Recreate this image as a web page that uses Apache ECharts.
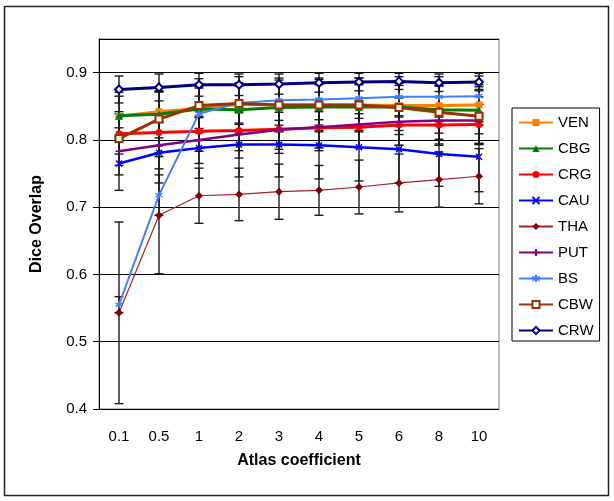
<!DOCTYPE html>
<html>
<head>
<meta charset="utf-8">
<script src="https://cdn.jsdelivr.net/npm/echarts@6/dist/echarts.min.js"></script>
<style>
  html, body { margin: 0; padding: 0; background: #fff; }
  #chart { width: 614px; height: 501px; }
</style>
</head>
<body>
<div id="chart"></div>
<script>
// x categories (atlas coefficient)
const categories = ['0.1', '0.5', '1', '2', '3', '4', '5', '6', '8', '10']

// mean Dice overlap per structure
const ven = [0.835, 0.842, 0.847, 0.853, 0.852, 0.852, 0.852, 0.851, 0.851, 0.852]
const cbg = [0.836, 0.838, 0.846, 0.845, 0.848, 0.849, 0.849, 0.849, 0.845, 0.844]
const crg = [0.809, 0.811, 0.813, 0.814, 0.816, 0.818, 0.819, 0.822, 0.822, 0.823]
const cau = [0.765, 0.781, 0.788, 0.793, 0.793, 0.792, 0.789, 0.786, 0.779, 0.775]
const tha = [0.543, 0.688, 0.717, 0.719, 0.723, 0.725, 0.730, 0.736, 0.741, 0.746]
const put = [0.783, 0.792, 0.800, 0.808, 0.815, 0.819, 0.823, 0.827, 0.829, 0.829]
const bs = [0.555, 0.718, 0.839, 0.855, 0.859, 0.860, 0.862, 0.864, 0.864, 0.865]
const cbw = [0.802, 0.831, 0.851, 0.854, 0.852, 0.852, 0.852, 0.848, 0.841, 0.835]
const crw = [0.875, 0.878, 0.882, 0.882, 0.883, 0.885, 0.886, 0.887, 0.885, 0.886]

// +/- error (std) per structure
const venErr = [0.030, 0.030, 0.030, 0.030, 0.030, 0.030, 0.030, 0.030, 0.030, 0.030]
const cbgErr = [0.035, 0.035, 0.035, 0.035, 0.035, 0.035, 0.035, 0.035, 0.035, 0.035]
const crgErr = [0.030, 0.030, 0.030, 0.030, 0.030, 0.030, 0.030, 0.030, 0.030, 0.030]
const cauErr = [0.040, 0.045, 0.045, 0.048, 0.048, 0.050, 0.050, 0.050, 0.048, 0.052]
const thaErr = [0.135, 0.087, 0.041, 0.039, 0.041, 0.037, 0.040, 0.043, 0.041, 0.041]
const putErr = [0.035, 0.035, 0.035, 0.035, 0.035, 0.035, 0.035, 0.035, 0.035, 0.035]
const bsErr = [0.012, 0.030, 0.040, 0.030, 0.030, 0.030, 0.030, 0.030, 0.030, 0.030]
const cbwErr = [0.040, 0.040, 0.040, 0.040, 0.040, 0.040, 0.040, 0.040, 0.040, 0.040]
const crwErr = [0.020, 0.020, 0.017, 0.016, 0.015, 0.014, 0.013, 0.012, 0.013, 0.013]

const FONT = '"Liberation Sans", Arial, sans-serif'
const X_SYM = 'path://M0,0L10,10M10,0L0,10'
const PLUS_SYM = 'path://M5,0L5,10M0,5L10,5'
const STAR_SYM = 'path://M5,0L5,10M0,2.5L10,7.5M0,7.5L10,2.5'

const structures = [
  { name: 'VEN', data: ven, err: venErr, color: '#ff8000', width: 3, symbol: 'rect', size: 7 },
  { name: 'CBG', data: cbg, err: cbgErr, color: '#008000', width: 3, symbol: 'triangle', size: 8 },
  { name: 'CRG', data: crg, err: crgErr, color: '#ff0000', width: 3, symbol: 'circle', size: 7 },
  { name: 'CAU', data: cau, err: cauErr, color: '#0000ff', width: 2.5, symbol: X_SYM, size: 6, stroke: true },
  { name: 'THA', data: tha, err: thaErr, color: '#800000', lineColor: '#a8202a', width: 1.2, symbol: 'diamond', size: 8 },
  { name: 'PUT', data: put, err: putErr, color: '#800080', width: 2.5, symbol: PLUS_SYM, size: 7, stroke: true },
  { name: 'BS', data: bs, err: bsErr, color: '#4080ff', width: 2, symbol: STAR_SYM, size: 7, stroke: true },
  { name: 'CBW', data: cbw, err: cbwErr, color: '#993300', width: 3, symbol: 'emptyRect', size: 7 },
  { name: 'CRW', data: crw, err: crwErr, color: '#000080', width: 3, symbol: 'emptyDiamond', size: 8 }
]

// error bar rows: [category index, low, high]
const errRows = []
structures.forEach(s => {
  s.data.forEach((v, i) => errRows.push([i, v - s.err[i], v + s.err[i]]))
})

function renderErr(params, api) {
  const i = api.value(0)
  const lo = api.coord([i, api.value(1)])
  const hi = api.coord([i, api.value(2)])
  const w = 4.5
  const st = { stroke: '#1a1a1a', lineWidth: 1.4 }
  return {
    type: 'group',
    children: [
      { type: 'line', shape: { x1: lo[0], y1: lo[1], x2: hi[0], y2: hi[1] }, style: st },
      { type: 'line', shape: { x1: lo[0] - w, y1: lo[1], x2: lo[0] + w, y2: lo[1] }, style: st },
      { type: 'line', shape: { x1: hi[0] - w, y1: hi[1], x2: hi[0] + w, y2: hi[1] }, style: st }
    ]
  }
}

const lineSeries = structures.map((s, k) => ({
  name: s.name,
  type: 'line',
  data: s.data,
  symbol: s.symbol,
  symbolSize: s.size,
  showAllSymbol: true,
  z: 3 + k,
  lineStyle: { color: s.lineColor || s.color, width: s.width },
  itemStyle: s.stroke
    ? { color: s.color, borderColor: s.color, borderWidth: 1.5 }
    : { color: s.color, borderColor: s.color, borderWidth: s.symbol.startsWith('empty') ? 1.5 : 0 },
  emphasis: { disabled: true },
  animation: false
}))

const chart = echarts.init(document.getElementById('chart'))
chart.setOption({
  backgroundColor: '#fff',
  animation: false,
  textStyle: { fontFamily: FONT },
  graphic: [{
    type: 'rect',
    shape: { x: 4.5, y: 6.5, width: 604, height: 489 },
    style: { fill: 'none', stroke: '#222', lineWidth: 1.5 },
    silent: true
  }],
  grid: {
    left: 99, top: 39, right: 115, bottom: 92,
    show: true, borderColor: '#808080', borderWidth: 1, backgroundColor: 'transparent'
  },
  legend: {
    orient: 'vertical',
    left: 512, top: 108,
    padding: [7, 6, 3, 6],
    itemWidth: 34, itemHeight: 9, itemGap: 11,
    borderColor: '#000', borderWidth: 1,
    textStyle: { fontSize: 15, color: '#000', fontFamily: FONT },
    data: structures.map(s => s.name)
  },
  xAxis: {
    type: 'category',
    data: categories,
    boundaryGap: true,
    name: 'Atlas coefficient',
    nameLocation: 'middle',
    nameGap: 44,
    nameTextStyle: { fontSize: 16, fontWeight: 'bold', color: '#000', fontFamily: FONT },
    axisLine: { lineStyle: { color: '#000', width: 1 } },
    axisTick: { length: 5, lineStyle: { color: '#000' } },
    axisLabel: { fontSize: 15, color: '#000', margin: 20, fontFamily: FONT },
    splitLine: { show: false }
  },
  yAxis: {
    type: 'value',
    min: 0.4, max: 0.95, interval: 0.1,
    name: 'Dice Overlap',
    nameLocation: 'middle',
    nameGap: 54,
    nameTextStyle: { fontSize: 16, fontWeight: 'bold', color: '#000', fontFamily: FONT },
    axisLine: { show: true, lineStyle: { color: '#000', width: 1 } },
    axisTick: { show: true, length: 6, lineStyle: { color: '#000' } },
    axisLabel: { fontSize: 15, color: '#000', margin: 12, fontFamily: FONT, showMaxLabel: false,
      formatter: v => v.toFixed(1) },
    splitLine: { lineStyle: { color: '#000', width: 1 } }
  },
  series: [
    {
      name: 'err',
      type: 'custom',
      renderItem: renderErr,
      data: errRows,
      z: 2,
      silent: true,
      animation: false
    }
  ].concat(lineSeries)
})
</script>
</body>
</html>
